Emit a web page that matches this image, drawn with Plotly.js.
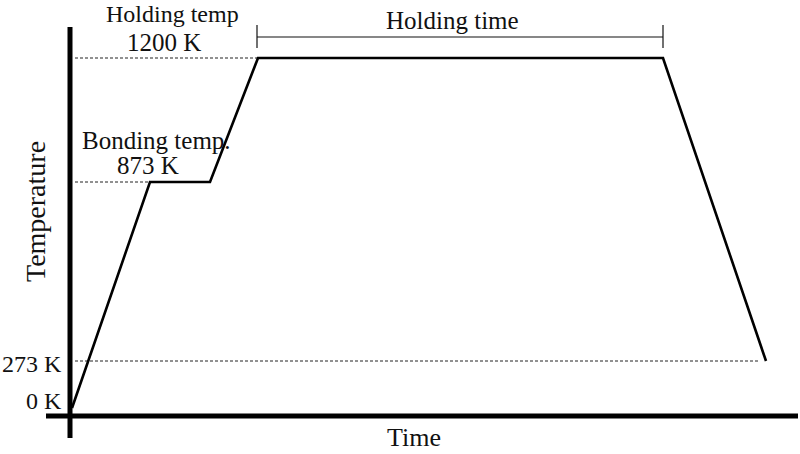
<!DOCTYPE html>
<html>
<head>
<meta charset="utf-8">
<script src="https://cdn.plot.ly/plotly-3.0.1.min.js"></script>
<style>html,body{margin:0;padding:0;background:#fff}#chart{width:800px;height:454px}</style>
</head>
<body>
<div id="chart"></div>
<script>
// Schematic heat-treatment profile (arbitrary time units, schematic temperature levels)
const timePts = [0, 78, 138, 186, 591, 694];
const levelPts = [0, 226, 226, 350, 350, 47];
// temperature reference levels and their labels
const refLevels = [0, 47, 226, 350];
const refLabels = ['0 K', '273 K', '873 K', '1200 K'];
const stageLabels = ['Bonding temp.', 'Holding temp', 'Holding time'];
const axisTitles = {x: 'Time', y: 'Temperature'};

// helpers: map picture pixel positions into the 1:1 data frame
const PX0 = 72, PY0 = 408;
const px = p => p - PX0;
const py = p => PY0 - p;

const FONT = '"Liberation Serif", "Times New Roman", serif';
const ink = '#111';
const dashCol = '#222';

const traces = [
  // dashed reference lines
  {x: [px(75), timePts[1]], y: [refLevels[2], refLevels[2]], mode: 'lines',
   line: {color: dashCol, width: 1, dash: '3px,2px'}, hoverinfo: 'skip'},
  {x: [px(75), timePts[3]], y: [refLevels[3], refLevels[3]], mode: 'lines',
   line: {color: dashCol, width: 1, dash: '3px,2px'}, hoverinfo: 'skip'},
  {x: [px(75), timePts[5] - 8], y: [refLevels[1], refLevels[1]], mode: 'lines',
   line: {color: dashCol, width: 1, dash: '3px,2px'}, hoverinfo: 'skip'},
  // main profile
  {x: timePts, y: levelPts, mode: 'lines', line: {color: '#000', width: 2.6}, hoverinfo: 'skip'}
];

const shapes = [
  // axis lines
  {type: 'line', xref: 'x', yref: 'y', x0: px(70), x1: px(70), y0: py(27), y1: py(438),
   line: {color: '#000', width: 5}},
  {type: 'line', xref: 'x', yref: 'y', x0: px(46), x1: px(798), y0: py(416), y1: py(416),
   line: {color: '#000', width: 5}},
  // holding-time bracket
  {type: 'line', x0: timePts[3] - 1, x1: timePts[4], y0: py(37), y1: py(37), line: {color: '#111', width: 1.2}},
  {type: 'line', x0: timePts[3] - 1, x1: timePts[3] - 1, y0: py(25), y1: py(48), line: {color: '#111', width: 1.2}},
  {type: 'line', x0: timePts[4], x1: timePts[4], y0: py(25), y1: py(48), line: {color: '#111', width: 1.2}}
];

const ann = (text, x, y, size, opts) => Object.assign({
  text, x, y, xref: 'x', yref: 'y', showarrow: false, xanchor: 'center', yanchor: 'middle',
  font: {family: FONT, size: size, color: ink}
}, opts || {});

const annotations = [
  ann(stageLabels[1], px(172), py(14), 24),
  ann(refLabels[3], px(164), py(42), 25),
  ann(stageLabels[0], px(156), py(140), 25),
  ann(refLabels[2], px(148), py(165), 25),
  ann(stageLabels[2], px(452), py(20), 25),
  ann(refLabels[0], px(64), py(401), 24, {xanchor: 'right'}),
  ann(refLabels[1], px(64), py(364), 24, {xanchor: 'right'}),
  ann(axisTitles.x, px(414), py(454), 26, {yanchor: 'bottom'}),
  ann(axisTitles.y, px(35), py(212), 28, {textangle: -90})
];

const layout = {
  width: 800, height: 454,
  margin: {l: 0, r: 0, t: 0, b: 0},
  paper_bgcolor: '#fff', plot_bgcolor: '#fff',
  showlegend: false,
  xaxis: {range: [px(0), px(800)], visible: false, fixedrange: true},
  yaxis: {range: [py(454), py(0)], visible: false, fixedrange: true},
  shapes, annotations,
  font: {family: FONT}
};

Plotly.newPlot('chart', traces, layout, {displayModeBar: false, staticPlot: true});
</script>
</body>
</html>
